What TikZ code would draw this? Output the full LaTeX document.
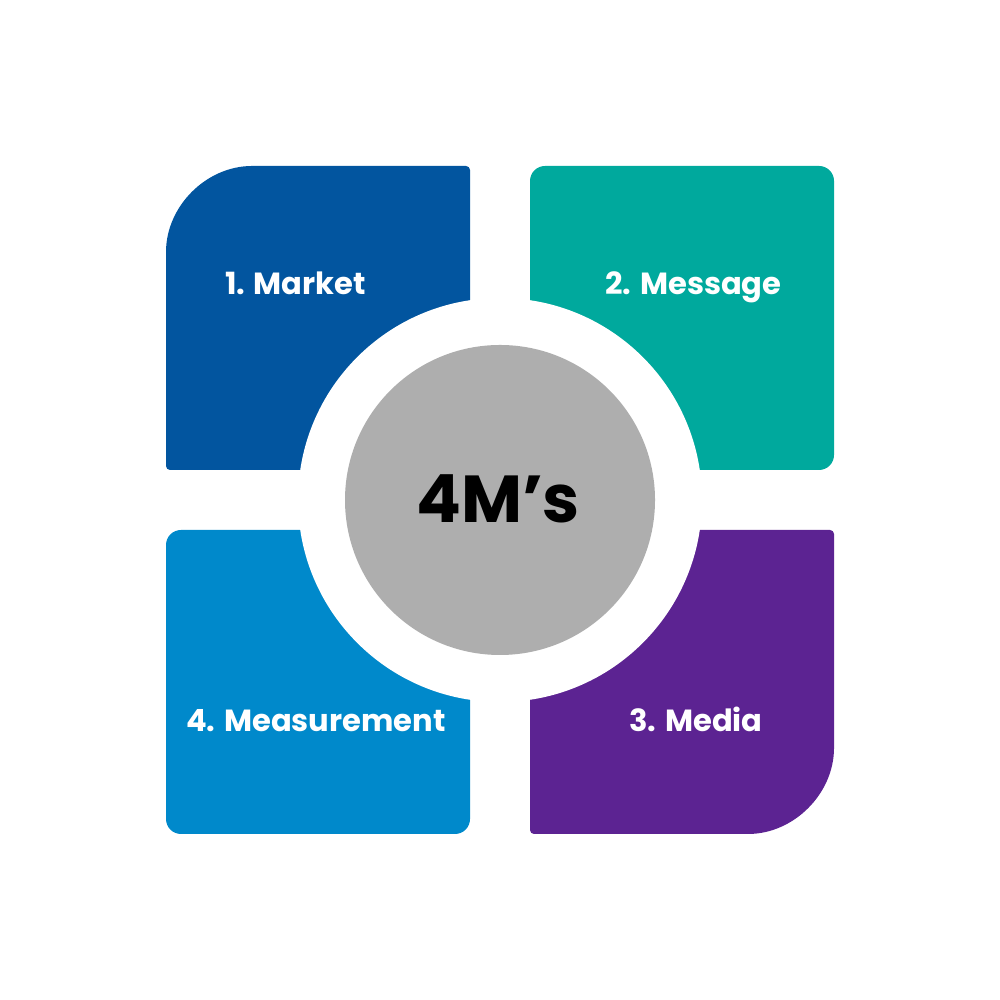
\documentclass[tikz,border=0pt]{standalone}
\usepackage{fontspec}
\setmainfont{Poppins}
\usepackage{tikz}

\definecolor{marketcol}{HTML}{02559F}
\definecolor{messagecol}{HTML}{00A99D}
\definecolor{mediacol}{HTML}{5C2392}
\definecolor{measurecol}{HTML}{0089CB}
\definecolor{hubcol}{HTML}{AEAEAE}

\tikzset{
  mtext/.style={text=white, anchor=base, inner sep=0pt, font=\bfseries\fontsize{8.7}{10}\selectfont},
  hubtext/.style={text=black, anchor=base, inner sep=0pt, font=\bfseries\fontsize{18.9}{22}\selectfont}
}

\begin{document}
\begin{tikzpicture}
		\useasboundingbox (0,0) rectangle (10,10);
		% four blocks, the ring cuts them later
		\fill[marketcol, rounded corners=0.04cm] (4.7,5.3) -- (1.66,5.3) -- (1.66,7.44) arc[start angle=180, end angle=90, radius=0.9] -- (4.7,8.34) -- cycle;
		\fill[messagecol, rounded corners=0.15cm] (5.3,5.3) rectangle (8.34,8.34);
		\fill[mediacol, rounded corners=0.04cm] (5.3,4.7) -- (5.3,1.66) -- (7.44,1.66) arc[start angle=270, end angle=360, radius=0.9] -- (8.34,4.7) -- cycle;
		\fill[measurecol, rounded corners=0.15cm] (1.66,1.66) rectangle (4.7,4.7);
		% white ring and grey hub
		\fill[white] (5,5) circle (2.02);
		\fill[hubcol] (5,5) circle (1.55);
		\path (2.955,7.05) node[mtext](Market){1. Market}
		(6.935,7.05) node[mtext](Message){2. Message}
		(6.96,2.68) node[mtext](Media){3. Media}
		(3.16,2.68) node[mtext](Measure){4. Measurement}
		(4.98,4.77) node[hubtext](Hub){4M’s};
	\end{tikzpicture}
\end{document}
